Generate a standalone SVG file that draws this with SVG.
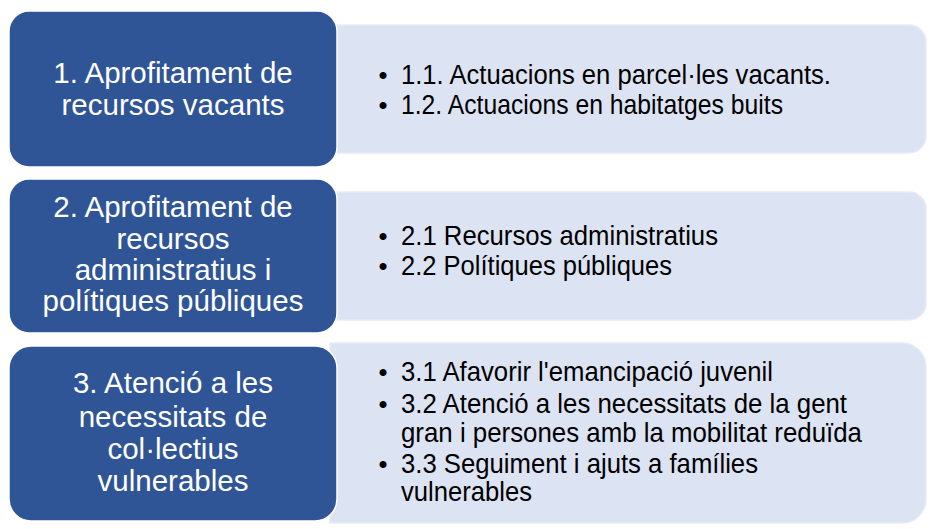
<svg xmlns="http://www.w3.org/2000/svg" width="929" height="529" viewBox="0 0 929 529">
  <style>
    .dark { fill: #2F5597; stroke: #FFFFFF; stroke-width: 1.5; }
    .light { fill: #DCE3F2; stroke: #E6EBF6; stroke-width: 1.5; }
    .lt { font-family: "Liberation Sans", Arial, sans-serif; font-size: 29.5px; fill: #FFFFFF; text-anchor: middle; }
    .rt { font-family: "Liberation Sans", Arial, sans-serif; font-size: 27.5px; fill: #000000; }
    .bu { font-family: "Liberation Sans", Arial, sans-serif; font-size: 25.8px; fill: #000000; text-anchor: middle; }
  </style>
  <rect width="929" height="529" fill="#FFFFFF"/>

  <g id="node1">
    <path class="light" d="M330 25 H909 A17 17 0 0 1 926 42 V136 A17 17 0 0 1 909 153 H330 Z"/>
    <rect class="dark" x="9" y="11" width="328" height="156" rx="20" ry="20"/>
    <text class="lt" x="173" y="83">1. Aprofitament de</text>
    <text class="lt" x="173" y="115">recursos vacants</text>
    <text class="bu" x="383" y="84">•</text>
    <text class="rt" x="401" y="84" textLength="430" lengthAdjust="spacingAndGlyphs">1.1. Actuacions en parcel·les vacants.</text>
    <text class="bu" x="383" y="114">•</text>
    <text class="rt" x="401" y="114" textLength="382" lengthAdjust="spacingAndGlyphs">1.2. Actuacions en habitatges buits</text>
  </g>

  <g id="node2">
    <path class="light" d="M330 192 H909 A17 17 0 0 1 926 209 V303 A17 17 0 0 1 909 320 H330 Z"/>
    <rect class="dark" x="9" y="179" width="328" height="154" rx="20" ry="20"/>
    <text class="lt" x="173" y="217">2. Aprofitament de</text>
    <text class="lt" x="173" y="248.5">recursos</text>
    <text class="lt" x="173" y="279.5">administratius i</text>
    <text class="lt" x="173" y="311">polítiques públiques</text>
    <text class="bu" x="383" y="245">•</text>
    <text class="rt" x="401" y="245" textLength="317" lengthAdjust="spacingAndGlyphs">2.1 Recursos administratius</text>
    <text class="bu" x="383" y="274.5">•</text>
    <text class="rt" x="401" y="274.5" textLength="271" lengthAdjust="spacingAndGlyphs">2.2 Polítiques públiques</text>
  </g>

  <g id="node3">
    <path class="light" d="M330 343 H902 A24 24 0 0 1 926 367 V499 A24 24 0 0 1 902 523 H330 Z"/>
    <rect class="dark" x="9" y="346" width="328" height="175" rx="22" ry="22"/>
    <text class="lt" x="173" y="393">3. Atenció a les</text>
    <text class="lt" x="173" y="426.5">necessitats de</text>
    <text class="lt" x="173" y="458.5">col·lectius</text>
    <text class="lt" x="173" y="491">vulnerables</text>
    <text class="bu" x="383" y="381">•</text>
    <text class="rt" x="401" y="381" textLength="372" lengthAdjust="spacingAndGlyphs">3.1 Afavorir l'emancipació juvenil</text>
    <text class="bu" x="383" y="413">•</text>
    <text class="rt" x="401" y="413" textLength="446" lengthAdjust="spacingAndGlyphs">3.2 Atenció a les necessitats de la gent</text>
    <text class="rt" x="401" y="441.5" textLength="461" lengthAdjust="spacingAndGlyphs">gran i persones amb la mobilitat reduïda</text>
    <text class="bu" x="383" y="473">•</text>
    <text class="rt" x="401" y="473" textLength="357" lengthAdjust="spacingAndGlyphs">3.3 Seguiment i ajuts a famílies</text>
    <text class="rt" x="401" y="501" textLength="131" lengthAdjust="spacingAndGlyphs">vulnerables</text>
  </g>
</svg>
